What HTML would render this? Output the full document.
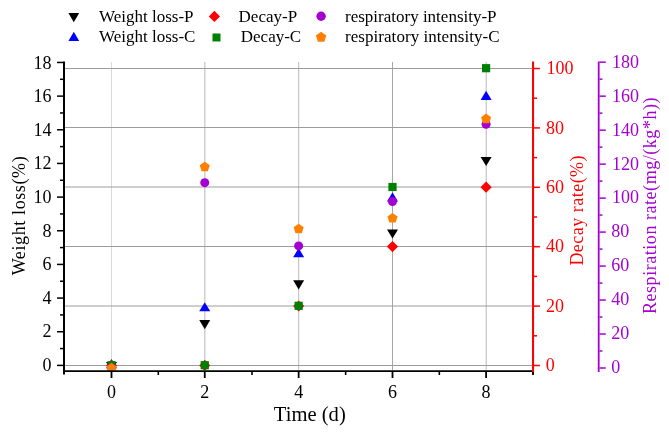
<!DOCTYPE html>
<html lang="en">
<head>
<meta charset="utf-8">
<title>Weight loss, decay rate and respiration rate over time</title>
<style>
html,body{margin:0;padding:0;background:#fff;}
body{width:669px;height:438px;overflow:hidden;font-family:"Liberation Serif","Times New Roman",serif;}
svg{display:block;will-change:transform;}
</style>
</head>
<body>
<svg width="669" height="438" viewBox="0 0 669 438" font-family="'Liberation Serif', 'Times New Roman', serif">
<rect width="669" height="438" fill="#fff"/>
<line x1="111.5" y1="62" x2="111.5" y2="370" stroke="#dadada" stroke-width="1"/>
<line x1="204.85" y1="62" x2="204.85" y2="370" stroke="#b8b8b8" stroke-width="1"/>
<line x1="298.7" y1="62" x2="298.7" y2="370" stroke="#bcbcbc" stroke-width="1"/>
<line x1="392.5" y1="62" x2="392.5" y2="370" stroke="#a6a6a6" stroke-width="1"/>
<line x1="486.2" y1="62" x2="486.2" y2="370" stroke="#b8b8b8" stroke-width="1"/>
<line x1="65" y1="365.5" x2="532" y2="365.5" stroke="#9c9c9c" stroke-width="1"/>
<line x1="65" y1="306.0" x2="532" y2="306.0" stroke="#9c9c9c" stroke-width="1"/>
<line x1="65" y1="246.5" x2="532" y2="246.5" stroke="#9c9c9c" stroke-width="1"/>
<line x1="65" y1="187.0" x2="532" y2="187.0" stroke="#9c9c9c" stroke-width="1"/>
<line x1="65" y1="127.5" x2="532" y2="127.5" stroke="#9c9c9c" stroke-width="1"/>
<line x1="65" y1="68.5" x2="532" y2="68.5" stroke="#9c9c9c" stroke-width="1"/>
<defs><clipPath id="plotclip"><rect x="60" y="50" width="480" height="320.2"/></clipPath></defs>
<g clip-path="url(#plotclip)">
<polygon points="106.00,362.03 117.00,362.03 111.50,371.23" fill="#000"/>
<polygon points="199.25,320.01 210.25,320.01 204.75,329.21" fill="#000"/>
<polygon points="293.15,280.24 304.15,280.24 298.65,289.44" fill="#000"/>
<polygon points="387.00,229.41 398.00,229.41 392.50,238.61" fill="#000"/>
<polygon points="480.60,156.88 491.60,156.88 486.10,166.08" fill="#000"/>
<polygon points="106.00,368.17 117.00,368.17 111.50,358.97" fill="#0000ff"/>
<polygon points="199.25,311.37 210.25,311.37 204.75,302.17" fill="#0000ff"/>
<polygon points="293.15,257.26 304.15,257.26 298.65,248.06" fill="#0000ff"/>
<polygon points="387.00,201.38 398.00,201.38 392.50,192.18" fill="#0000ff"/>
<polygon points="480.60,99.90 491.60,99.90 486.10,90.70" fill="#0000ff"/>
<polygon points="111.50,359.80 117.10,365.40 111.50,371.00 105.90,365.40" fill="#ff0000"/>
<polygon points="204.75,359.80 210.35,365.40 204.75,371.00 199.15,365.40" fill="#ff0000"/>
<polygon points="298.65,300.40 304.25,306.00 298.65,311.60 293.05,306.00" fill="#ff0000"/>
<polygon points="392.50,241.00 398.10,246.60 392.50,252.20 386.90,246.60" fill="#ff0000"/>
<polygon points="486.10,181.60 491.70,187.20 486.10,192.80 480.50,187.20" fill="#ff0000"/>
<rect x="107.40" y="361.10" width="8.2" height="8.2" fill="#008000"/>
<rect x="200.65" y="361.10" width="8.2" height="8.2" fill="#008000"/>
<rect x="294.55" y="301.70" width="8.2" height="8.2" fill="#008000"/>
<rect x="388.40" y="182.90" width="8.2" height="8.2" fill="#008000"/>
<rect x="482.00" y="64.10" width="8.2" height="8.2" fill="#008000"/>
<circle cx="111.50" cy="367.70" r="4.5" fill="#a400d3"/>
<circle cx="204.75" cy="182.68" r="4.5" fill="#a400d3"/>
<circle cx="298.65" cy="245.88" r="4.5" fill="#a400d3"/>
<circle cx="392.50" cy="201.54" r="4.5" fill="#a400d3"/>
<circle cx="486.10" cy="124.23" r="4.5" fill="#a400d3"/>
<polygon points="111.50,362.80 116.54,366.46 114.62,372.39 108.38,372.39 106.46,366.46" fill="#ff8000"/>
<polygon points="204.75,161.64 209.79,165.30 207.87,171.23 201.63,171.23 199.71,165.30" fill="#ff8000"/>
<polygon points="298.65,223.65 303.69,227.31 301.77,233.24 295.53,233.24 293.61,227.31" fill="#ff8000"/>
<polygon points="392.50,212.95 397.54,216.61 395.62,222.54 389.38,222.54 387.46,216.61" fill="#ff8000"/>
<polygon points="486.10,113.56 491.14,117.22 489.22,123.14 482.98,123.14 481.06,117.22" fill="#ff8000"/>
</g>
<g stroke="#000" fill="none">
<line x1="64" y1="61.5" x2="64" y2="374.5" stroke-width="2"/>
<line x1="63" y1="371" x2="534" y2="371" stroke-width="1.75"/>
<line x1="57" y1="365.40" x2="63.5" y2="365.40" stroke-width="1.5"/>
<line x1="60" y1="348.57" x2="63.5" y2="348.57" stroke-width="1.5"/>
<line x1="57" y1="331.74" x2="63.5" y2="331.74" stroke-width="1.5"/>
<line x1="60" y1="314.91" x2="63.5" y2="314.91" stroke-width="1.5"/>
<line x1="57" y1="298.08" x2="63.5" y2="298.08" stroke-width="1.5"/>
<line x1="60" y1="281.25" x2="63.5" y2="281.25" stroke-width="1.5"/>
<line x1="57" y1="264.42" x2="63.5" y2="264.42" stroke-width="1.5"/>
<line x1="60" y1="247.59" x2="63.5" y2="247.59" stroke-width="1.5"/>
<line x1="57" y1="230.76" x2="63.5" y2="230.76" stroke-width="1.5"/>
<line x1="60" y1="213.93" x2="63.5" y2="213.93" stroke-width="1.5"/>
<line x1="57" y1="197.10" x2="63.5" y2="197.10" stroke-width="1.5"/>
<line x1="60" y1="180.27" x2="63.5" y2="180.27" stroke-width="1.5"/>
<line x1="57" y1="163.44" x2="63.5" y2="163.44" stroke-width="1.5"/>
<line x1="60" y1="146.61" x2="63.5" y2="146.61" stroke-width="1.5"/>
<line x1="57" y1="129.78" x2="63.5" y2="129.78" stroke-width="1.5"/>
<line x1="60" y1="112.95" x2="63.5" y2="112.95" stroke-width="1.5"/>
<line x1="57" y1="96.12" x2="63.5" y2="96.12" stroke-width="1.5"/>
<line x1="60" y1="79.29" x2="63.5" y2="79.29" stroke-width="1.5"/>
<line x1="57" y1="62.46" x2="63.5" y2="62.46" stroke-width="1.5"/>
<line x1="111.50" y1="371" x2="111.50" y2="378" stroke-width="1.8"/>
<line x1="158.29" y1="371" x2="158.29" y2="375" stroke-width="1.6"/>
<line x1="204.75" y1="371" x2="204.75" y2="378" stroke-width="1.8"/>
<line x1="251.97" y1="371" x2="251.97" y2="375" stroke-width="1.6"/>
<line x1="298.65" y1="371" x2="298.65" y2="378" stroke-width="1.8"/>
<line x1="345.65" y1="371" x2="345.65" y2="375" stroke-width="1.6"/>
<line x1="392.50" y1="371" x2="392.50" y2="378" stroke-width="1.8"/>
<line x1="439.33" y1="371" x2="439.33" y2="375" stroke-width="1.6"/>
<line x1="486.10" y1="371" x2="486.10" y2="378" stroke-width="1.8"/>
<line x1="533.01" y1="371" x2="533.01" y2="375" stroke-width="1.6"/>
<line x1="533" y1="371" x2="533" y2="374.5" stroke-width="2"/>
</g>
<g stroke="#ff0000" fill="none">
<line x1="533.05" y1="61.5" x2="533.05" y2="372" stroke-width="2.05"/>
<line x1="534" y1="365.50" x2="539.9" y2="365.50" stroke-width="1.5"/>
<line x1="534" y1="335.80" x2="537.0" y2="335.80" stroke-width="1.5"/>
<line x1="534" y1="306.10" x2="539.9" y2="306.10" stroke-width="1.5"/>
<line x1="534" y1="276.40" x2="537.0" y2="276.40" stroke-width="1.5"/>
<line x1="534" y1="246.70" x2="539.9" y2="246.70" stroke-width="1.5"/>
<line x1="534" y1="217.00" x2="537.0" y2="217.00" stroke-width="1.5"/>
<line x1="534" y1="187.30" x2="539.9" y2="187.30" stroke-width="1.5"/>
<line x1="534" y1="157.60" x2="537.0" y2="157.60" stroke-width="1.5"/>
<line x1="534" y1="127.90" x2="539.9" y2="127.90" stroke-width="1.5"/>
<line x1="534" y1="98.20" x2="537.0" y2="98.20" stroke-width="1.5"/>
<line x1="534" y1="68.50" x2="539.9" y2="68.50" stroke-width="1.5"/>
</g>
<g stroke="#a400d3" fill="none">
<line x1="598.7" y1="61.6" x2="598.7" y2="372" stroke-width="1.8"/>
<line x1="599.5" y1="368.00" x2="605.8" y2="368.00" stroke-width="1.5"/>
<line x1="599.5" y1="351.01" x2="602.4" y2="351.01" stroke-width="1.5"/>
<line x1="599.5" y1="334.02" x2="605.8" y2="334.02" stroke-width="1.5"/>
<line x1="599.5" y1="317.03" x2="602.4" y2="317.03" stroke-width="1.5"/>
<line x1="599.5" y1="300.04" x2="605.8" y2="300.04" stroke-width="1.5"/>
<line x1="599.5" y1="283.05" x2="602.4" y2="283.05" stroke-width="1.5"/>
<line x1="599.5" y1="266.06" x2="605.8" y2="266.06" stroke-width="1.5"/>
<line x1="599.5" y1="249.07" x2="602.4" y2="249.07" stroke-width="1.5"/>
<line x1="599.5" y1="232.08" x2="605.8" y2="232.08" stroke-width="1.5"/>
<line x1="599.5" y1="215.09" x2="602.4" y2="215.09" stroke-width="1.5"/>
<line x1="599.5" y1="198.10" x2="605.8" y2="198.10" stroke-width="1.5"/>
<line x1="599.5" y1="181.11" x2="602.4" y2="181.11" stroke-width="1.5"/>
<line x1="599.5" y1="164.12" x2="605.8" y2="164.12" stroke-width="1.5"/>
<line x1="599.5" y1="147.13" x2="602.4" y2="147.13" stroke-width="1.5"/>
<line x1="599.5" y1="130.14" x2="605.8" y2="130.14" stroke-width="1.5"/>
<line x1="599.5" y1="113.15" x2="602.4" y2="113.15" stroke-width="1.5"/>
<line x1="599.5" y1="96.16" x2="605.8" y2="96.16" stroke-width="1.5"/>
<line x1="599.5" y1="79.17" x2="602.4" y2="79.17" stroke-width="1.5"/>
<line x1="599.5" y1="62.18" x2="605.8" y2="62.18" stroke-width="1.5"/>
</g>
<g font-size="18" fill="#000" text-anchor="end">
<text x="51.4" y="370.90">0</text>
<text x="51.4" y="337.30">2</text>
<text x="51.4" y="303.70">4</text>
<text x="51.4" y="270.10">6</text>
<text x="51.4" y="236.50">8</text>
<text x="51.4" y="202.90">10</text>
<text x="51.4" y="169.30">12</text>
<text x="51.4" y="135.70">14</text>
<text x="51.4" y="102.10">16</text>
<text x="51.4" y="68.50">18</text>
</g>
<g font-size="18" fill="#000" text-anchor="middle">
<text x="111.50" y="398">0</text>
<text x="204.75" y="398">2</text>
<text x="298.65" y="398">4</text>
<text x="392.50" y="398">6</text>
<text x="486.10" y="398">8</text>
</g>
<g font-size="18" fill="#ff0000" text-anchor="start">
<text x="545.7" y="370.80">0</text>
<text x="546.0" y="311.53">20</text>
<text x="546.0" y="252.26">40</text>
<text x="546.0" y="192.99">60</text>
<text x="546.0" y="133.72">80</text>
<text x="546.6" y="74.45">100</text>
</g>
<g font-size="18" fill="#a400d3" text-anchor="start">
<text x="611.2" y="372.90">0</text>
<text x="611.2" y="339.01">20</text>
<text x="611.2" y="305.11">40</text>
<text x="611.2" y="271.22">60</text>
<text x="611.2" y="237.32">80</text>
<text x="611.9" y="203.43">100</text>
<text x="611.9" y="169.54">120</text>
<text x="611.9" y="135.64">140</text>
<text x="611.9" y="101.75">160</text>
<text x="611.9" y="67.85">180</text>
</g>
<text x="309.8" y="420.6" font-size="20.6" text-anchor="middle" fill="#000">Time (d)</text>
<text transform="translate(24.7,275.3) rotate(-90)" font-size="18" textLength="119" lengthAdjust="spacing" fill="#000">Weight loss(%)</text>
<text transform="translate(583.1,265.6) rotate(-90)" font-size="18" textLength="110.2" lengthAdjust="spacing" fill="#ff0000">Decay rate(%)</text>
<text transform="translate(656.2,314.0) rotate(-90)" font-size="18" textLength="216.5" lengthAdjust="spacing" fill="#a400d3">Respiration rate(mg/(kg*h))</text>
<polygon points="68.40,13.00 79.20,13.00 73.80,22.20" fill="#000"/>
<polygon points="68.40,40.90 79.20,40.90 73.80,31.70" fill="#0000ff"/>
<polygon points="214.40,10.80 220.00,16.40 214.40,22.00 208.80,16.40" fill="#ff0000"/>
<rect x="212.50" y="33.50" width="8" height="8" fill="#008000"/>
<circle cx="321.10" cy="16.20" r="4.7" fill="#a400d3"/>
<polygon points="321.10,31.80 326.33,35.60 324.33,41.75 317.87,41.75 315.87,35.60" fill="#ff8000"/>
<g font-size="17" fill="#000">
<text x="99" y="21.7">Weight loss-P</text>
<text x="99" y="42.1">Weight loss-C</text>
<text x="238.6" y="21.7">Decay-P</text>
<text x="240.8" y="42.1">Decay-C</text>
<text x="345" y="21.7">respiratory intensity-P</text>
<text x="345" y="42.1" textLength="154.6" lengthAdjust="spacing">respiratory intensity-C</text>
</g>
</svg>
</body>
</html>
